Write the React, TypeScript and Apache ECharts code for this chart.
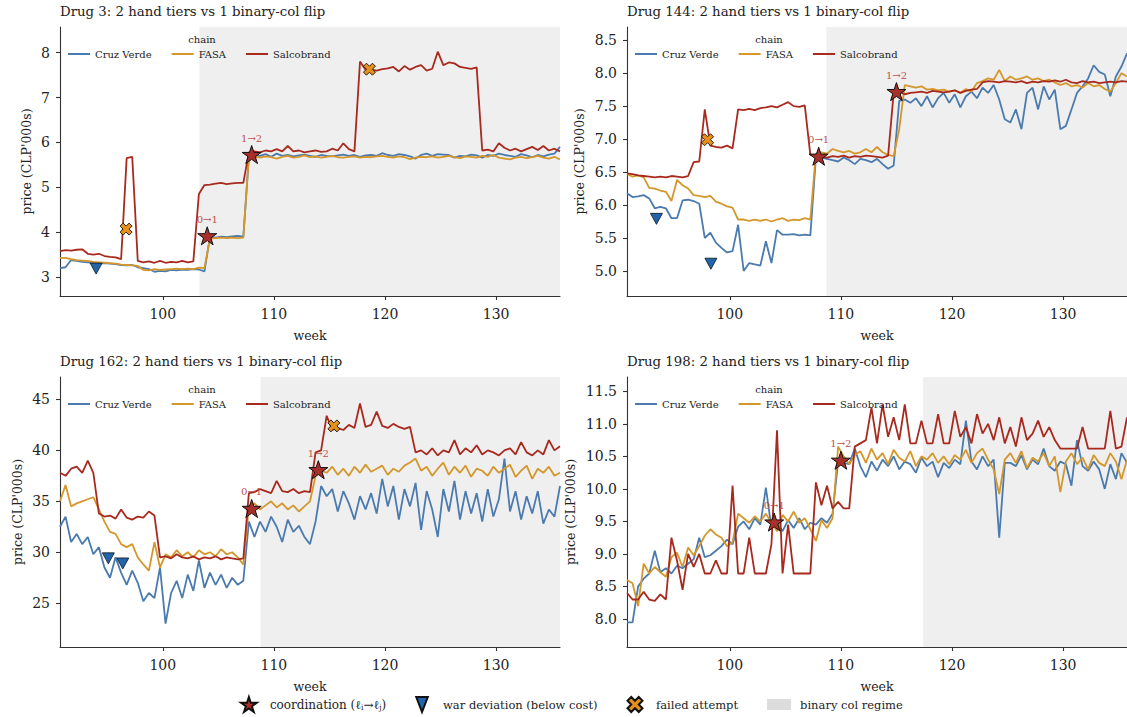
import React, { useEffect, useRef } from "react";
import * as echarts from "echarts";

const FONT = "'DejaVu Serif', serif";

// ---- x grid (weeks, half-week sampling) ----
const WEEK_FIRST = 90.75;
const WEEK_STEP = 0.5;
const N_POINTS = 91;
const weeks: number[] = Array.from({ length: N_POINTS }, (_, i) => WEEK_FIRST + WEEK_STEP * i);
const xTicks = [100, 110, 120, 130];

const titles = [
  "Drug 3: 2 hand tiers vs 1 binary-col flip",
  "Drug 144: 2 hand tiers vs 1 binary-col flip",
  "Drug 162: 2 hand tiers vs 1 binary-col flip",
  "Drug 198: 2 hand tiers vs 1 binary-col flip",
];
const chains = ["Cruz Verde", "FASA", "Salcobrand"];

// ---- Drug 3 ----
const cruzVerde3 = [
  3.20, 3.22, 3.38, 3.36, 3.34, 3.33, 3.32, 3.30, 3.31, 3.30,
  3.29, 3.27, 3.26, 3.27, 3.22, 3.20, 3.18, 3.12, 3.14, 3.13,
  3.16, 3.15, 3.17, 3.16, 3.18, 3.17, 3.13, 3.90, 3.88, 3.90,
  3.89, 3.91, 3.92, 3.90, 5.68, 5.72, 5.70, 5.74, 5.68, 5.75,
  5.70, 5.72, 5.69, 5.71, 5.73, 5.70, 5.68, 5.72, 5.70, 5.69,
  5.71, 5.73, 5.70, 5.72, 5.68, 5.71, 5.72, 5.70, 5.76, 5.72,
  5.70, 5.74, 5.72, 5.69, 5.64, 5.72, 5.75, 5.70, 5.74, 5.73,
  5.72, 5.66, 5.70, 5.69, 5.73, 5.71, 5.66, 5.72, 5.70, 5.75,
  5.72, 5.70, 5.68, 5.74, 5.71, 5.67, 5.72, 5.69, 5.73, 5.75,
  5.90,
];
const fasa3 = [
  3.43, 3.43, 3.40, 3.38, 3.37, 3.36, 3.34, 3.33, 3.32, 3.31,
  3.30, 3.28, 3.27, 3.26, 3.25, 3.16, 3.15, 3.18, 3.16, 3.17,
  3.18, 3.19, 3.18, 3.19, 3.18, 3.21, 3.20, 3.86, 3.87, 3.88,
  3.87, 3.88, 3.87, 3.88, 5.70, 5.68, 5.66, 5.69, 5.67, 5.64,
  5.68, 5.70, 5.66, 5.68, 5.71, 5.67, 5.69, 5.66, 5.68, 5.70,
  5.67, 5.66, 5.68, 5.69, 5.66, 5.68, 5.67, 5.69, 5.70, 5.68,
  5.66, 5.69, 5.67, 5.63, 5.66, 5.68, 5.67, 5.69, 5.66, 5.68,
  5.70, 5.67, 5.65, 5.69, 5.68, 5.66, 5.70, 5.68, 5.72, 5.66,
  5.64, 5.62, 5.66, 5.68, 5.65, 5.67, 5.70, 5.66, 5.64, 5.68,
  5.62,
];
const salcobrand3 = [
  3.58, 3.60, 3.59, 3.61, 3.62, 3.52, 3.50, 3.52, 3.47, 3.45,
  3.44, 3.40, 5.65, 5.68, 3.36, 3.33, 3.35, 3.32, 3.36, 3.32,
  3.34, 3.33, 3.36, 3.33, 3.35, 4.85, 5.05, 5.06, 5.08, 5.10,
  5.07, 5.09, 5.10, 5.10, 5.78, 5.80, 5.78, 5.82, 5.80, 5.85,
  5.80, 5.92, 5.80, 5.82, 5.78, 5.80, 5.82, 5.79, 5.80, 5.86,
  5.82, 5.98, 5.85, 5.80, 7.80, 7.62, 7.62, 7.60, 7.63, 7.65,
  7.68, 7.58, 7.70, 7.62, 7.68, 7.72, 7.60, 7.64, 8.02, 7.72,
  7.78, 7.76, 7.68, 7.66, 7.64, 7.67, 5.82, 5.84, 5.80, 5.98,
  5.88, 5.82, 5.86, 5.80, 5.85, 5.90, 5.83, 5.92, 5.82, 5.86,
  5.80,
];

// ---- Drug 144 ----
const cruzVerde144 = [
  6.18, 6.12, 6.13, 6.15, 6.10, 5.95, 5.97, 5.95, 5.80, 5.80,
  6.07, 6.08, 6.06, 6.02, 5.50, 5.58, 5.43, 5.35, 5.28, 5.30,
  5.70, 5.00, 5.12, 5.10, 5.08, 5.45, 5.12, 5.62, 5.55, 5.55,
  5.56, 5.54, 5.55, 5.54, 6.72, 6.72, 6.70, 6.68, 6.66, 6.72,
  6.68, 6.62, 6.70, 6.68, 6.65, 6.70, 6.62, 6.55, 6.60, 7.58,
  7.60, 7.55, 7.62, 7.50, 7.65, 7.48, 7.62, 7.70, 7.55, 7.68,
  7.48, 7.65, 7.72, 7.62, 7.78, 7.70, 7.82, 7.60, 7.30, 7.25,
  7.45, 7.15, 7.70, 7.78, 7.45, 7.80, 7.60, 7.75, 7.15, 7.20,
  7.45, 7.70, 7.80, 7.92, 8.12, 8.02, 7.98, 7.65, 7.95, 8.10,
  8.30,
];
const fasa144 = [
  6.47, 6.43, 6.45, 6.42, 6.26, 6.25, 6.22, 6.20, 6.06, 6.38,
  6.30, 6.25, 6.15, 6.14, 6.12, 6.14, 6.05, 6.02, 5.98, 5.96,
  5.78, 5.78, 5.76, 5.78, 5.76, 5.78, 5.75, 5.78, 5.80, 5.76,
  5.78, 5.77, 5.80, 5.78, 6.78, 6.80, 6.78, 6.85, 6.82, 6.80,
  6.82, 6.78, 6.80, 6.85, 6.80, 6.88, 6.80, 6.76, 6.74, 7.15,
  7.82, 7.80, 7.78, 7.80, 7.75, 7.76, 7.74, 7.75, 7.72, 7.74,
  7.70, 7.76, 7.72, 7.85, 7.88, 7.92, 7.90, 8.05, 7.88, 7.95,
  7.90, 7.92, 7.95, 7.90, 7.92, 7.88, 7.90, 7.86, 7.82, 7.85,
  7.80, 7.82, 7.78, 7.85, 7.80, 7.82, 7.76, 7.72, 7.85, 8.00,
  7.95,
];
const salcobrand144 = [
  6.48, 6.47, 6.45, 6.44, 6.43, 6.42, 6.43, 6.42, 6.44, 6.43,
  6.42, 6.44, 6.65, 6.66, 7.45, 6.90, 6.88, 6.87, 6.90, 6.86,
  7.45, 7.44, 7.46, 7.44, 7.47, 7.48, 7.50, 7.48, 7.52, 7.56,
  7.50, 7.49, 7.51, 6.76, 6.74, 6.73, 6.72, 6.74, 6.73, 6.75,
  6.72, 6.74, 6.73, 6.75, 6.74, 6.73, 6.72, 6.75, 7.70, 7.72,
  7.68, 7.70, 7.71, 7.72, 7.70, 7.73, 7.72, 7.71, 7.72, 7.74,
  7.70, 7.73, 7.75, 7.76, 7.86, 7.88, 7.87, 7.86, 7.88, 7.87,
  7.86, 7.88, 7.85, 7.87, 7.86, 7.88, 7.87, 7.89, 7.87, 7.90,
  7.86, 7.85, 7.88, 7.86, 7.87, 7.85, 7.86, 7.87, 7.86, 7.88,
  7.87,
];

// ---- Drug 162 ----
const cruzVerde162 = [
  32.5, 33.5, 31.0, 31.8, 30.8, 31.5, 29.8, 30.5, 28.5, 27.5,
  29.5, 28.0, 26.8, 28.2, 27.0, 25.2, 26.0, 25.5, 28.5, 23.0,
  26.0, 27.2, 25.5, 27.8, 26.2, 29.2, 26.5, 28.0, 26.8, 27.8,
  26.5, 27.5, 26.8, 27.2, 33.0, 31.5, 33.0, 32.0, 33.5, 32.5,
  31.0, 33.2, 32.0, 32.6, 31.5, 30.8, 33.0, 36.5, 35.5, 36.2,
  34.0, 36.0, 34.8, 33.2, 35.5, 34.2, 35.8, 33.8, 37.2, 34.5,
  36.5, 33.2, 36.2, 34.5, 36.8, 32.2, 36.0, 34.2, 31.5, 36.2,
  34.0, 37.0, 33.2, 36.0, 33.8, 35.8, 33.0, 36.2, 33.5, 35.2,
  39.2, 34.0, 36.0, 33.2, 35.5, 33.8, 36.0, 32.8, 34.2, 33.5,
  36.5,
];
const fasa162 = [
  35.0, 36.6, 34.5, 34.8, 35.0, 35.2, 35.4, 34.2, 33.0, 32.0,
  31.8, 30.8, 30.5, 30.8, 29.5, 28.8, 28.2, 31.0, 28.5, 29.8,
  29.5, 30.2, 29.6, 30.0, 29.5, 30.2, 29.8, 30.0, 29.6, 30.3,
  29.8, 30.0, 29.5, 28.8, 34.5, 34.8, 34.2, 34.6, 35.0, 34.4,
  34.8, 34.2, 34.6, 34.0, 34.5, 35.0, 37.5, 38.0, 37.8, 38.4,
  37.6, 38.2, 37.5, 38.4, 37.8, 38.6, 37.9, 38.2, 38.5, 37.6,
  38.2, 37.9, 38.5, 38.8, 39.2, 38.0, 38.4, 37.5, 38.2, 38.8,
  37.6, 38.4, 37.8, 38.5, 37.4, 38.2, 38.0, 37.5, 38.4, 37.8,
  38.2, 38.6, 37.4, 38.0, 38.5, 37.2, 38.2, 37.8, 38.4, 37.5,
  37.8,
];
const salcobrand162 = [
  37.8, 37.5, 38.2, 38.4, 37.8, 39.0, 37.8, 33.8, 33.5, 33.6,
  33.3, 34.2, 33.4, 33.2, 33.5, 33.4, 34.0, 33.6, 29.5, 29.6,
  29.4, 29.8, 29.5, 29.4, 29.6, 29.3, 29.5, 29.4, 29.6, 29.3,
  29.5, 29.4, 29.3, 29.4, 35.8, 35.9, 36.2, 36.0, 35.8, 37.0,
  36.0, 35.9, 36.2, 35.8, 36.0, 35.9, 39.8, 40.0, 43.4, 42.0,
  42.2, 42.0, 42.5, 42.2, 44.6, 42.3, 42.5, 43.8, 42.4, 42.2,
  42.6, 42.3, 42.1, 42.3, 39.8, 40.0, 39.6, 40.2, 39.5, 40.0,
  39.8, 41.0, 39.6, 40.2, 39.8, 40.5, 39.6, 40.0, 39.8, 39.5,
  40.0, 40.2, 39.6, 40.8, 39.8, 39.5, 40.0, 39.6, 41.0, 40.0,
  40.4,
];

// ---- Drug 198 ----
const cruzVerde198 = [
  7.95, 7.95, 8.50, 8.62, 8.70, 9.05, 8.72, 8.78, 8.70, 8.82,
  8.78, 8.85, 8.92, 9.25, 8.95, 8.98, 9.05, 9.12, 9.22, 9.15,
  9.42, 9.50, 9.38, 9.55, 9.45, 10.02, 9.40, 9.48, 9.35, 9.52,
  9.40, 9.55, 9.38, 9.48, 9.45, 9.55, 9.48, 9.62, 10.42, 10.40,
  10.38, 10.62, 10.35, 10.18, 10.42, 10.28, 10.45, 10.35, 10.50, 10.30,
  10.42, 10.38, 10.25, 10.48, 10.35, 10.42, 10.18, 10.40, 10.32, 10.45,
  10.38, 11.05, 10.42, 10.30, 10.50, 10.35, 10.45, 9.25, 10.40, 10.40,
  10.35, 10.52, 10.30, 10.45, 10.38, 10.62, 10.35, 10.28, 10.42, 10.38,
  10.05, 10.75, 10.35, 10.28, 10.42, 10.30, 10.00, 10.38, 10.15, 10.55,
  10.40,
];
const fasa198 = [
  8.60, 8.55, 8.20, 8.85, 8.70, 8.80, 8.72, 8.65, 8.95, 9.02,
  8.80, 9.10, 8.98, 9.12, 9.28, 9.38, 9.30, 9.25, 9.12, 9.18,
  9.62, 9.55, 9.48, 9.58, 9.50, 9.62, 9.48, 9.35, 9.60, 9.50,
  9.65, 9.48, 9.55, 9.38, 9.20, 9.52, 9.40, 9.55, 10.65, 10.50,
  10.38, 10.52, 10.58, 10.40, 10.62, 10.45, 10.55, 10.38, 10.60, 10.48,
  10.42, 10.58, 10.35, 10.50, 10.45, 10.55, 10.40, 10.50, 10.38, 10.52,
  10.45, 10.60, 10.40, 10.55, 10.62, 10.45, 10.30, 9.92, 10.45, 10.55,
  10.40, 10.58, 10.32, 10.48, 10.42, 10.55, 10.35, 10.50, 9.95, 10.42,
  10.55, 10.38, 10.48, 10.30, 10.52, 10.40, 10.35, 10.55, 10.42, 10.15,
  10.45,
];
const salcobrand198 = [
  8.40, 8.30, 8.30, 8.42, 8.30, 8.28, 8.38, 8.30, 9.25, 8.90,
  8.45, 9.00, 8.80, 9.00, 8.70, 8.70, 8.90, 8.70, 8.70, 10.05,
  8.70, 8.70, 9.25, 8.70, 8.70, 8.70, 9.15, 10.90, 8.70, 9.45,
  8.70, 8.70, 8.70, 8.70, 10.10, 9.75, 10.05, 9.70, 9.80, 9.70,
  9.70, 10.65, 10.70, 10.75, 11.25, 10.70, 11.30, 10.80, 11.10, 10.75,
  11.30, 10.70, 10.70, 11.05, 10.70, 10.70, 11.15, 10.70, 10.70, 11.20,
  10.80, 10.95, 10.70, 11.15, 10.85, 11.00, 10.75, 11.10, 10.70, 10.95,
  10.65, 11.10, 10.75, 10.85, 11.05, 10.80, 10.95, 10.75, 10.62, 10.62,
  10.62, 10.62, 10.95, 10.62, 10.62, 10.62, 10.62, 11.20, 10.62, 10.65,
  11.10,
];

const seriesByPanel = [
  [cruzVerde3, fasa3, salcobrand3],
  [cruzVerde144, fasa144, salcobrand144],
  [cruzVerde162, fasa162, salcobrand162],
  [cruzVerde198, fasa198, salcobrand198],
];

// axis extents and tick labels
const xMin = 90.75;
const xMax = 135.75;
const yMins = [2.58, 4.62, 20.7, 7.57];
const yMaxs = [8.57, 8.7, 47.2, 11.72];
const yTicks = [
  [3, 4, 5, 6, 7, 8],
  [5.0, 5.5, 6.0, 6.5, 7.0, 7.5, 8.0, 8.5],
  [25, 30, 35, 40, 45],
  [8.0, 8.5, 9.0, 9.5, 10.0, 10.5, 11.0, 11.5],
];
const yDecimals = [0, 1, 0, 1];

// binary collusion regime start week
const regimeStart = [103.3, 108.7, 108.8, 117.4];

// events
const coordWeeks = [[104.0, 108.0], [108.0, 115.0], [108.0, 114.0], [104.0, 110.0]];
const coordPrices = [[3.92, 5.73], [6.74, 7.72], [34.3, 38.1], [9.49, 10.44]];
const coordLabels = [["0→1", "1→2"], ["0→1", "1→2"], ["0→1", "1→2"], ["0→1", "1→2"]];
const warWeeks = [[94.0], [93.4, 98.3], [95.1, 96.4], []];
const warPrices = [[3.19], [5.79, 5.11], [29.4, 28.9], []];
const failedWeeks = [[96.7, 118.6], [98.0], [115.4], []];
const failedPrices = [[4.07, 7.63], [6.99], [42.4], []];

const COLORS = ["#4a7aae", "#d4972b", "#a8291d"];
const STAR =
  "path://M100,0 L122.45,69.1 L195.11,69.1 L136.33,111.8 L158.78,180.9 L100,138.2 L41.22,180.9 L63.67,111.8 L4.89,69.1 L77.55,69.1 Z";
const XMARK =
  "path://M150,0 L200,50 L150,100 L200,150 L150,200 L100,150 L50,200 L0,150 L50,100 L0,50 L50,0 L100,50 Z";
const TRI_DOWN = "path://M0,0 L100,0 L50,100 Z";
const TRI_DOWN_TALL = "path://M0,0 L100,0 L50,130 Z";
const RECT_WIDE = "path://M0,0 L240,0 L240,110 L0,110 Z";

const grids = [
  { left: 60, top: 27, width: 500, height: 269 },
  { left: 627, top: 27, width: 500, height: 269 },
  { left: 60, top: 377, width: 500, height: 270 },
  { left: 627, top: 377, width: 500, height: 270 },
];
const yNameGaps = [27, 41, 36, 50];

function buildOption() {
  const axisLine = { show: true, lineStyle: { color: "#333", width: 1.1 } };
  const tickStyle = { color: "#333", width: 1.1 };
  const xAxis = grids.map((_, i) => ({
    type: "value",
    gridIndex: i,
    min: xMin,
    max: xMax,
    axisLine,
    axisTick: { show: true, length: 4, customValues: xTicks, lineStyle: tickStyle },
    axisLabel: { customValues: xTicks, fontFamily: FONT, fontSize: 14, color: "#222", margin: 11 },
    splitLine: { show: false },
    name: "week",
    nameLocation: "middle",
    nameGap: 33,
    nameTextStyle: { fontFamily: FONT, fontSize: 12.5, color: "#222" },
  }));
  const yAxis = grids.map((_, i) => ({
    type: "value",
    gridIndex: i,
    min: yMins[i],
    max: yMaxs[i],
    axisLine,
    axisTick: { show: true, length: 4, customValues: yTicks[i], lineStyle: tickStyle },
    axisLabel: {
      customValues: yTicks[i],
      formatter: (v: number) => v.toFixed(yDecimals[i]),
      fontFamily: FONT,
      fontSize: 14,
      color: "#222",
      margin: 10,
    },
    splitLine: { show: false },
    name: "price (CLP'000s)",
    nameLocation: "middle",
    nameGap: yNameGaps[i],
    nameTextStyle: { fontFamily: FONT, fontSize: 12.5, color: "#222" },
  }));

  const series: any[] = [];
  grids.forEach((_, i) => {
    series.push({
      type: "line",
      name: "binary col regime",
      xAxisIndex: i,
      yAxisIndex: i,
      data: [],
      symbol: "none",
      silent: true,
      z: 0,
      color: "#dcdcdc",
      markArea: {
        silent: true,
        itemStyle: { color: "#efefef" },
        data: [[{ xAxis: regimeStart[i] }, { xAxis: xMax }]],
      },
    });
    seriesByPanel[i].forEach((vals, k) => {
      series.push({
        type: "line",
        name: chains[k],
        xAxisIndex: i,
        yAxisIndex: i,
        data: weeks.map((w, j) => [w, vals[j]]),
        symbol: "none",
        color: COLORS[k],
        lineStyle: { width: 1.8, color: COLORS[k] },
        z: 2,
      });
    });
    series.push({
      type: "scatter",
      name: "coordination",
      xAxisIndex: i,
      yAxisIndex: i,
      data: coordWeeks[i].map((w, j) => ({ value: [w, coordPrices[i][j]], name: coordLabels[i][j] })),
      symbol: STAR,
      symbolSize: 19,
      symbolKeepAspect: true,
      color: "#a9302a",
      itemStyle: { color: "#a9302a", borderColor: "#111", borderWidth: 1, opacity: 1 },
      label: {
        show: true,
        position: "top",
        distance: 2,
        formatter: "{b}",
        color: "#c0504d",
        fontFamily: FONT,
        fontSize: 10,
      },
      z: 6,
    });
    series.push({
      type: "scatter",
      name: "war deviation (below cost)",
      xAxisIndex: i,
      yAxisIndex: i,
      data: warWeeks[i].map((w, j) => [w, warPrices[i][j]]),
      symbol: TRI_DOWN,
      symbolSize: [12, 11],
      color: "#2166ac",
      itemStyle: { color: "#2166ac", borderColor: "#111", borderWidth: 0.8, opacity: 1 },
      z: 6,
    });
    series.push({
      type: "scatter",
      name: "failed attempt",
      xAxisIndex: i,
      yAxisIndex: i,
      data: failedWeeks[i].map((w, j) => [w, failedPrices[i][j]]),
      symbol: XMARK,
      symbolSize: 12,
      color: "#e8901c",
      itemStyle: { color: "#e8901c", borderColor: "#111", borderWidth: 0.9, opacity: 1 },
      z: 6,
    });
  });

  const panelLegends = grids.map((g) => ({
    left: g.left + 8,
    top: g.top + 22,
    padding: 0,
    itemWidth: 22,
    itemHeight: 2,
    itemGap: 20,
    icon: "rect",
    selectedMode: false,
    data: chains,
    z: 10,
    textStyle: { fontFamily: FONT, fontSize: 10, color: "#222" },
  }));

  const bottomLegend = {
    left: 240,
    top: 696,
    padding: 0,
    itemWidth: 24,
    itemHeight: 15,
    itemGap: 29,
    selectedMode: false,
    data: [
      { name: "coordination", icon: STAR },
      { name: "war deviation (below cost)", icon: TRI_DOWN_TALL },
      { name: "failed attempt", icon: XMARK },
      { name: "binary col regime", icon: RECT_WIDE, itemStyle: { color: "#dcdcdc", borderWidth: 0 } },
    ],
    formatter: (name: string) =>
      name === "coordination" ? "{a|coordination (ℓ}{s|i}{a|→ℓ}{s|j}{a|)}" : name,
    textStyle: {
      fontFamily: FONT,
      fontSize: 11.5,
      color: "#222",
      padding: [0, 0, 0, 4],
      rich: {
        a: { fontFamily: FONT, fontSize: 12, color: "#222" },
        s: { fontFamily: FONT, fontSize: 7.5, color: "#222", padding: [6, 0, 0, 0] },
      },
    },
  };

  const graphic = grids.map((g) => ({
    type: "text",
    x: g.left + 142,
    y: g.top + 12,
    z: 100,
    silent: true,
    style: {
      text: "chain",
      fontFamily: FONT,
      fontSize: 10,
      fill: "#222",
      align: "center",
      verticalAlign: "middle",
    },
  }));

  return {
    animation: false,
    backgroundColor: "#ffffff",
    title: grids.map((g, i) => ({
      text: titles[i],
      left: g.left,
      top: g.top - 22,
      padding: 0,
      textStyle: { fontFamily: FONT, fontSize: 13.3, fontWeight: "normal", color: "#222" },
    })),
    grid: grids,
    xAxis,
    yAxis,
    legend: [...panelLegends, bottomLegend],
    graphic,
    series,
  };
}

export default function App() {
  const ref = useRef<HTMLDivElement>(null);
  useEffect(() => {
    if (!ref.current) return;
    const chart = echarts.init(ref.current, undefined, { renderer: "svg" });
    chart.setOption(buildOption() as any);
    return () => chart.dispose();
  }, []);
  return (
    <div
      ref={ref}
      style={{ position: "absolute", left: 0, top: 0, width: 1127, height: 717, background: "#fff" }}
    />
  );
}
